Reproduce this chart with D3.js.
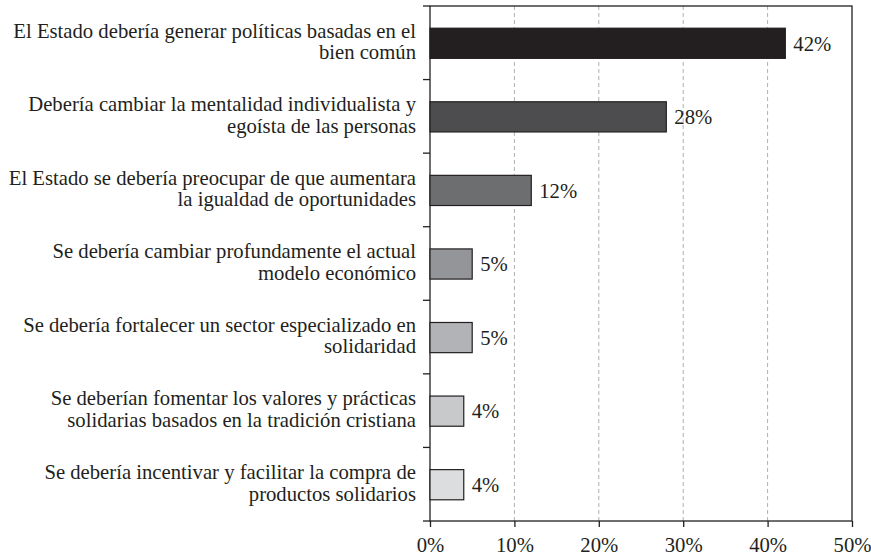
<!DOCTYPE html>
<html><head><meta charset="utf-8">
<script src="https://cdn.jsdelivr.net/npm/d3@7"></script>
<style>body{margin:0;background:#fff}svg{display:block}text{font-family:"Liberation Serif","Times New Roman",serif;fill:#231f20}</style>
</head><body><svg id="c" width="871" height="556"></svg>
<script>
const categories = [
  ["El Estado debería generar políticas basadas en el", "bien común"],
  ["Debería cambiar la mentalidad individualista y", "egoísta de las personas"],
  ["El Estado se debería preocupar de que aumentara", "la igualdad de oportunidades"],
  ["Se debería cambiar profundamente el actual", "modelo económico"],
  ["Se debería fortalecer un sector especializado en", "solidaridad"],
  ["Se deberían fomentar los valores y prácticas", "solidarias basados en la tradición cristiana"],
  ["Se debería incentivar y facilitar la compra de", "productos solidarios"]
];
const values = [42.1, 28, 12, 5, 5, 4, 4];
const valueLabels = ["42%", "28%", "12%", "5%", "5%", "4%", "4%"];
const barColors = ["#231f20", "#4d4d4f", "#6d6e70", "#939598", "#b1b3b6", "#c8c9cb", "#dcdddf"];
const xTicks = [0, 10, 20, 30, 40, 50];

const svg = d3.select("#c");
const L = 430, R = 852, T = 6, B = 521;
const x = d3.scaleLinear().domain([0, 50]).range([L, R]);
const y = d3.scaleBand().domain(d3.range(categories.length)).range([T, B]);
const barH = y.bandwidth() * 0.41;
const fs = 20.7;

// grid
svg.append("g").selectAll("line").data(xTicks.slice(1, -1)).join("line")
  .attr("x1", d => x(d)).attr("x2", d => x(d)).attr("y1", T).attr("y2", B)
  .attr("stroke", "#9a9a9a").attr("stroke-width", 0.8).attr("stroke-dasharray", "4,3");

// frame
svg.append("rect").attr("x", L).attr("y", T).attr("width", R - L).attr("height", B - T)
  .attr("fill", "none").attr("stroke", "#231f20").attr("stroke-width", 1.3);

// bars
svg.append("g").selectAll("rect").data(values).join("rect")
  .attr("x", x(0)).attr("y", (d, i) => y(i) + y.bandwidth() / 2 - barH / 2 + 0.5)
  .attr("width", d => x(d) - x(0)).attr("height", barH)
  .attr("fill", (d, i) => barColors[i]).attr("stroke", "#231f20").attr("stroke-width", 1.2);

// value labels
svg.append("g").selectAll("text").data(values).join("text")
  .attr("x", d => x(d) + 8).attr("y", (d, i) => y(i) + y.bandwidth() / 2 + 0.5)
  .attr("dy", "0.35em").attr("font-size", fs).text((d, i) => valueLabels[i]);

// left axis ticks at band boundaries
const yb = d3.range(categories.length + 1).map(i => T + i * y.step());
svg.append("g").selectAll("line").data(yb).join("line")
  .attr("x1", L - 7).attr("x2", L).attr("y1", d => d).attr("y2", d => d)
  .attr("stroke", "#231f20").attr("stroke-width", 1.3);

// category labels
const cl = svg.append("g").selectAll("text").data(categories).join("text")
  .attr("text-anchor", "end").attr("font-size", fs)
  .attr("transform", (d, i) => `translate(416,${y(i) + y.bandwidth() / 2})`);
cl.selectAll("tspan").data(d => d).join("tspan")
  .attr("x", 0).attr("y", (d, j) => (j === 0 ? -5.2 : 16.4)).text(d => d);

// bottom axis
const xa = svg.append("g").attr("transform", `translate(0,${B})`)
  .call(d3.axisBottom(x).tickValues(xTicks).tickFormat(d => d + "%").tickSize(6).tickSizeOuter(0));
xa.select(".domain").remove();
xa.selectAll("line").attr("stroke", "#231f20").attr("stroke-width", 1.3);
xa.selectAll("text").attr("font-size", fs).attr("font-family", '"Liberation Serif",serif').attr("fill", "#231f20").attr("dy", "1.05em");
</script></body></html>
